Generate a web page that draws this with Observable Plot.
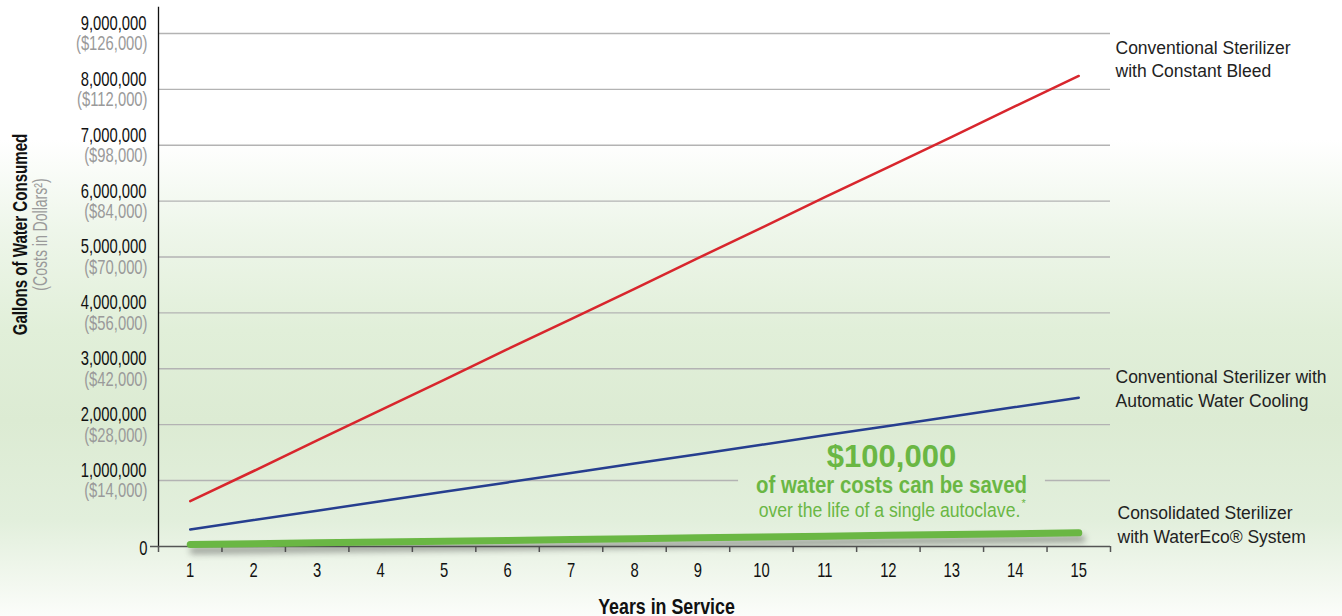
<!DOCTYPE html>
<html>
<head>
<meta charset="utf-8">
<script src="https://cdn.jsdelivr.net/npm/d3@7"></script>
<script src="https://cdn.jsdelivr.net/npm/@observablehq/plot@0.6"></script>
<style>
  html, body { margin: 0; padding: 0; }
  body {
    width: 1342px; height: 616px; overflow: hidden;
    background: linear-gradient(to bottom, #ffffff 0px, #ffffff 140px, #eef6ea 230px, #e1efd9 330px, #dcebd3 420px, #e2efdc 520px, #f3f8f0 585px, #fbfdfa 616px);
  }
  #chart svg { display: block; background: transparent; }
</style>
</head>
<body>
<div id="chart"></div>
<script>
// ---- Data ----
const years = [1, 2, 3, 4, 5, 6, 7, 8, 9, 10, 11, 12, 13, 14, 15];
const constantBleed = [630000, 1170000, 1720000, 2260000, 2800000, 3350000, 3890000, 4430000, 4980000, 5520000, 6070000, 6610000, 7150000, 7700000, 8240000];
const automaticCooling = [123000, 292000, 460000, 629000, 797000, 966000, 1134000, 1303000, 1471000, 1640000, 1808000, 1977000, 2145000, 2314000, 2482000];
const waterEco = [13000, 18000, 24000, 29000, 34000, 39000, 45000, 50000, 55000, 61000, 66000, 71000, 76000, 82000, 87000];
const gallonTicks = [1000000, 2000000, 3000000, 4000000, 5000000, 6000000, 7000000, 8000000, 9000000];
const gallonLabels = ["1,000,000", "2,000,000", "3,000,000", "4,000,000", "5,000,000", "6,000,000", "7,000,000", "8,000,000", "9,000,000"];
const dollarLabels = ["($14,000)", "($28,000)", "($42,000)", "($56,000)", "($70,000)", "($84,000)", "($98,000)", "($112,000)", "($126,000)"];
const seriesNames = ["Conventional Sterilizer\nwith Constant Bleed", "Conventional Sterilizer with\nAutomatic Water Cooling", "Consolidated Sterilizer\nwith WaterEco® System"];
const yTitle = "Gallons of Water Consumed";
const ySubtitle = "(Costs in Dollars²)";
const xTitle = "Years in Service";
const calloutBig = "$100,000";
const calloutMid = "of water costs can be saved";
const calloutSmall = "over the life of a single autoclave.";
const calloutMark = "*";

// ---- Build tables ----
const toRows = (vals) => years.map((y, i) => ({year: y, value: vals[i]}));
const red = toRows(constantBleed);
const blue = toRows(automaticCooling);
const green = toRows(waterEco);
const tickRows = gallonTicks.map((v, i) => ({v, g: gallonLabels[i], d: dollarLabels[i]}));
const bandEdges = [0.5, ...years.map(y => y + 0.5)];

const FONT = "'Liberation Sans', Arial, Helvetica, sans-serif";
const GREEN = "#6ab744";
const RED = "#d8262d";
const BLUE = "#263e8f";

const chart = Plot.plot({
  width: 1342,
  height: 616,
  marginLeft: 158,
  marginRight: 232,
  marginTop: 7,
  marginBottom: 70,
  style: {background: "transparent", fontFamily: FONT, overflow: "visible"},
  x: {type: "linear", domain: [0.5, 15.5]},
  // piecewise scale: the band just above zero is stretched, as in the original artwork
  y: {type: "linear", domain: [0, 100000, 1000000, 9000000], range: [546, 530.3, 480, 33], axis: null},
  marks: [
    // gridlines
    Plot.ruleY(gallonTicks, {stroke: "#b3b3b3", strokeWidth: 1.3, ariaDescription: "grid"}),
    // y axis line
    Plot.frame({anchor: "left", stroke: "#111", strokeWidth: 1.3}),
    // x axis line (extends a little left of the y axis as the 0 tick)
    Plot.ruleY([0], {stroke: "#555", strokeWidth: 1.5, insetLeft: -8}),
    // x ticks at band edges
    Plot.axisX({ticks: bandEdges, tickSize: 6, tickFormat: () => "", stroke: "#555", strokeWidth: 1.5, label: null}),
    // data lines
    Plot.lineY(red, {x: "year", y: "value", stroke: RED, strokeWidth: 2.5}),
    Plot.lineY(blue, {x: "year", y: "value", stroke: BLUE, strokeWidth: 2.5}),
    Plot.lineY(green, {x: "year", y: "value", stroke: GREEN, strokeWidth: 7, strokeLinecap: "round", imageFilter: "drop-shadow(3px 6px 3px rgba(60,60,60,0.45))"}),
    // y tick labels
    Plot.text(tickRows, {y: "v", text: "g", frameAnchor: "left", dx: -12, dy: -10, textAnchor: "end", lineAnchor: "middle", fontSize: 20, fill: "#111", ariaDescription: "sq74"}),
    Plot.text(tickRows, {y: "v", text: "d", frameAnchor: "left", dx: -11, dy: 10.5, textAnchor: "end", lineAnchor: "middle", fontSize: 20, fill: "#9a9a9a", ariaDescription: "sq74"}),
    Plot.text([0], {y: d => d, text: d => "0", frameAnchor: "left", dx: -11, dy: 2, textAnchor: "end", lineAnchor: "middle", fontSize: 20, fill: "#111", ariaDescription: "sq74"}),
    // x tick labels
    Plot.text(years, {x: d => d, text: d => String(d), frameAnchor: "bottom", dy: 24, lineAnchor: "middle", fontSize: 20, fill: "#111", ariaDescription: "sq74"}),
    // axis titles
    Plot.text([xTitle], {frameAnchor: "bottom", dx: 32, dy: 60, text: d => d, fontWeight: "bold", fontSize: 22, fill: "#111", lineAnchor: "middle", ariaDescription: "sq81"}),
    Plot.text([yTitle], {frameAnchor: "top-left", dx: -138, dy: 234 - 7, rotate: -90, text: d => d, fontWeight: "bold", fontSize: 21, fill: "#111", lineAnchor: "middle", textAnchor: "middle", ariaDescription: "sq72"}),
    Plot.text([ySubtitle], {frameAnchor: "top-left", dx: -118, dy: 234 - 7, rotate: -90, text: d => d, fontSize: 19.5, fill: "#9a9a9a", lineAnchor: "middle", textAnchor: "middle", ariaDescription: "sq72"}),
    // series labels
    Plot.text([red[14]], {y: "value", text: () => seriesNames[0], frameAnchor: "right", dx: 5, dy: -18, textAnchor: "start", lineAnchor: "middle", lineHeight: 1.36, fontSize: 17.5, fill: "#222"}),
    Plot.text([blue[14]], {y: "value", text: () => seriesNames[1], frameAnchor: "right", dx: 5, dy: -10, textAnchor: "start", lineAnchor: "middle", lineHeight: 1.36, fontSize: 17.5, fill: "#222"}),
    Plot.text([green[14]], {y: "value", text: () => seriesNames[2], frameAnchor: "right", dx: 7, dy: -9.5, textAnchor: "start", lineAnchor: "middle", lineHeight: 1.36, fontSize: 17.5, fill: "#222"}),
    // callout text
    Plot.text([calloutBig], {frameAnchor: "top-left", dx: 891 - 158, dy: 456 - 7, text: d => d, fontWeight: "bold", fontSize: 32, fill: GREEN, textAnchor: "middle", lineAnchor: "middle", ariaDescription: "sq97"}),
    Plot.text([calloutMid], {frameAnchor: "top-left", dx: 891 - 158, dy: 485 - 7, text: d => d, fontWeight: "bold", fontSize: 24, fill: GREEN, textAnchor: "middle", lineAnchor: "middle", ariaDescription: "callout-mid"}),
    Plot.text([calloutSmall], {frameAnchor: "top-left", dx: 889 - 158, dy: 510 - 7, text: d => d, fontSize: 19.5, fill: GREEN, textAnchor: "middle", lineAnchor: "middle", ariaDescription: "sq90"}),
    Plot.text([calloutMark], {frameAnchor: "top-left", dx: 1021 - 158, dy: 503 - 7, text: d => d, fontSize: 11, fill: GREEN, textAnchor: "start", lineAnchor: "middle"})
  ]
});
document.getElementById("chart").appendChild(chart);

// horizontal condensing of texts (no condensed font is installed)
function squeeze(desc, s) {
  d3.select(chart).selectAll(`g[aria-description="${desc}"] text`).each(function() {
    const t = this.getAttribute("transform");
    if (t) this.setAttribute("transform", t + ` scale(${s},1)`);
    else {
      const x = +this.getAttribute("x") || 0, y = +this.getAttribute("y") || 0;
      this.removeAttribute("x"); this.removeAttribute("y");
      this.setAttribute("transform", `translate(${x},${y}) scale(${s},1)`);
    }
  });
}
squeeze("sq74", 0.74);
squeeze("sq72", 0.72);
squeeze("sq81", 0.81);
squeeze("sq97", 0.97);
squeeze("callout-mid", 0.85);
squeeze("sq90", 0.905);

// break the gridline behind the callout
const svg = d3.select(chart);
const midText = svg.select('g[aria-description="callout-mid"] text').node();
if (midText) {
  const r = midText.getBoundingClientRect();
  const s = chart.getBoundingClientRect();
  const defs = svg.insert("defs", ":first-child");
  const mask = defs.append("mask").attr("id", "gridgap").attr("maskUnits", "userSpaceOnUse")
    .attr("x", 0).attr("y", 0).attr("width", 1342).attr("height", 616);
  mask.append("rect").attr("x", 0).attr("y", 0).attr("width", 1342).attr("height", 616).attr("fill", "white");
  mask.append("rect").attr("x", r.left - s.left - 18).attr("y", r.top - s.top - 4)
    .attr("width", r.width + 36).attr("height", r.height + 8).attr("fill", "black");
  svg.select('g[aria-description="grid"]').attr("mask", "url(#gridgap)");
}
</script>
</body>
</html>
